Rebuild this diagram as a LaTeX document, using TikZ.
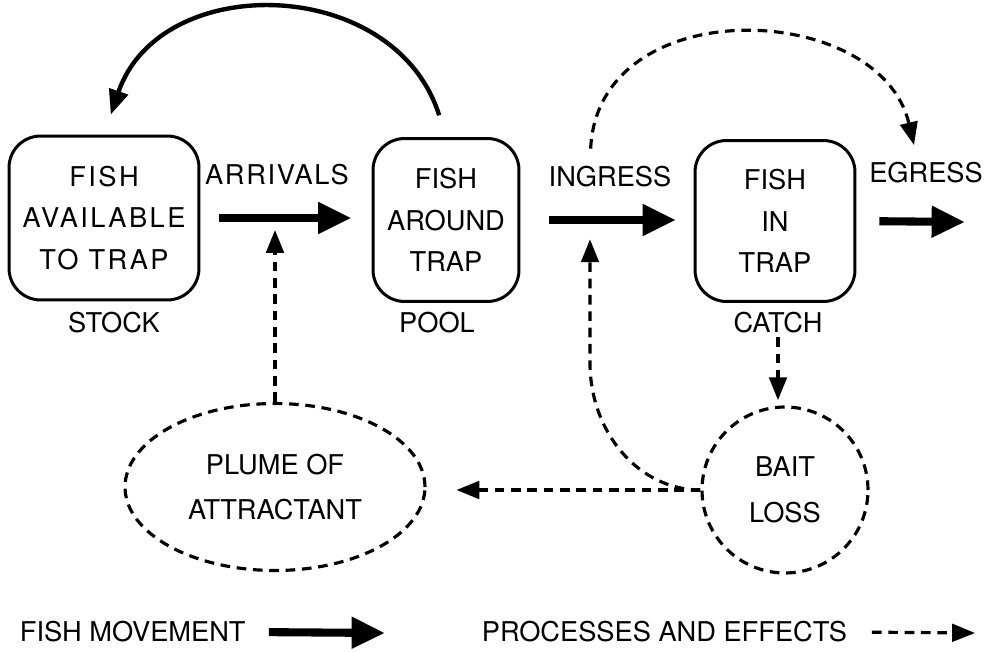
\documentclass[tikz,border=0pt]{standalone}
\usepackage{fontspec}
\setmainfont{TeX Gyre Heros}
\usetikzlibrary{arrows.meta, positioning, shapes.geometric}

\begin{document}
\begin{tikzpicture}[x=0.02cm, y=-0.02cm,
        box/.style={rectangle, draw=black, line width=1.7pt, rounded corners=18pt, align=center,
                    font=\fontsize{15.5}{23.5}\selectfont, inner sep=0pt},
        lbl/.style={font=\fontsize{15.5}{18}\selectfont, inner sep=2pt},
        bubble/.style={draw=black, line width=1.8pt, dash pattern=on 5.5pt off 3.8pt, align=center,
                       font=\fontsize{15.5}{26}\selectfont, inner sep=0pt},
        move/.style={-{Triangle[length=19pt, width=17pt]}, line width=4.6pt},
        swing/.style={-{Triangle[length=14pt, width=11pt]}, line width=2.5pt},
        effect/.style={-{Triangle[length=13pt, width=10pt]}, line width=1.8pt, dash pattern=on 5.5pt off 3.8pt}
    ]
        \useasboundingbox (0,0) rectangle (995,652);

        \node[box, minimum width=3.8cm, minimum height=3.28cm] (stock) at (104,218)
            {\addfontfeature{LetterSpace=9}FISH\\\addfontfeature{LetterSpace=9}AVAILABLE\\\addfontfeature{LetterSpace=9}TO TRAP};
        \node[box, minimum width=2.92cm, minimum height=3.26cm] (pool) at (446,220) {FISH\\AROUND\\TRAP};
        \node[box, minimum width=3.2cm, minimum height=3.22cm] (trap) at (775,221) {FISH\\IN\\TRAP};

        \node[lbl] (stocklbl) at (114,323) {STOCK};
        \node[lbl] (poollbl) at (437,323) {POOL};
        \node[lbl] (catchlbl) at (778,323) {CATCH};

        \node[lbl] (arrlbl) at (277,175) {\addfontfeature{LetterSpace=6}ARRIVALS};
        \node[lbl] (inglbl) at (610,177) {INGRESS};
        \node[lbl] (eglbl) at (926,173) {EGRESS};

        \node[bubble, ellipse, minimum width=6cm, minimum height=3.34cm] (plume) at (275,487) {PLUME OF\\ATTRACTANT};
        \node[bubble, circle, minimum size=3.32cm] (bait) at (785,490) {BAIT\\LOSS};

        % legende
        \node[lbl, anchor=west] (movekey) at (16,632) {FISH MOVEMENT};
        \node[lbl, anchor=west] (effkey) at (478,632) {PROCESSES AND EFFECTS};

        \coordinate (outlet) at (965,222);
        \coordinate (ingmid) at (590,220);
        \coordinate (bend) at (590,363);
        \coordinate (moveend) at (385,633);
        \coordinate (effend) at (975,633);

        % Mouvements des poissons
        \draw[move, shorten <=10.8pt, shorten >=11.4pt] (stock.east) -- (stock.east -| pool.west);
        \draw[move, shorten <=16.5pt, shorten >=10pt] (pool.east) -- (pool.east -| trap.west);
        \draw[move, shorten <=13pt] (trap.east) -- (outlet);
        \draw[swing, shorten <=13pt, shorten >=12pt] (pool.north) .. controls (395,-25) and (160,-30) .. (stock.north);

        % Processus et effets
        \draw[effect, shorten >=6.8pt] (plume.north) -- (plume.north |- stock.east);
        \draw[effect, shorten >=3pt] (catchlbl.south) -- (catchlbl.south |- bait.north);
        \draw[effect, shorten >=17pt] (bait.west) -- (bait.west -| plume.east);
        \draw[effect, shorten >=11pt] (bait.west) .. controls +(-62,0) and +(0,69) .. (bend) -- (ingmid);
        \draw[effect, shorten <=8pt, shorten >=8pt] (ingmid |- inglbl.north) .. controls (598,-10) and (880,0) .. ([xshift=-5pt]eglbl.north);

        \draw[move, shorten <=11pt] (movekey.east) -- (moveend);
        \draw[effect, shorten <=12pt] (effkey.east) -- (effend);
    \end{tikzpicture}
\end{document}
